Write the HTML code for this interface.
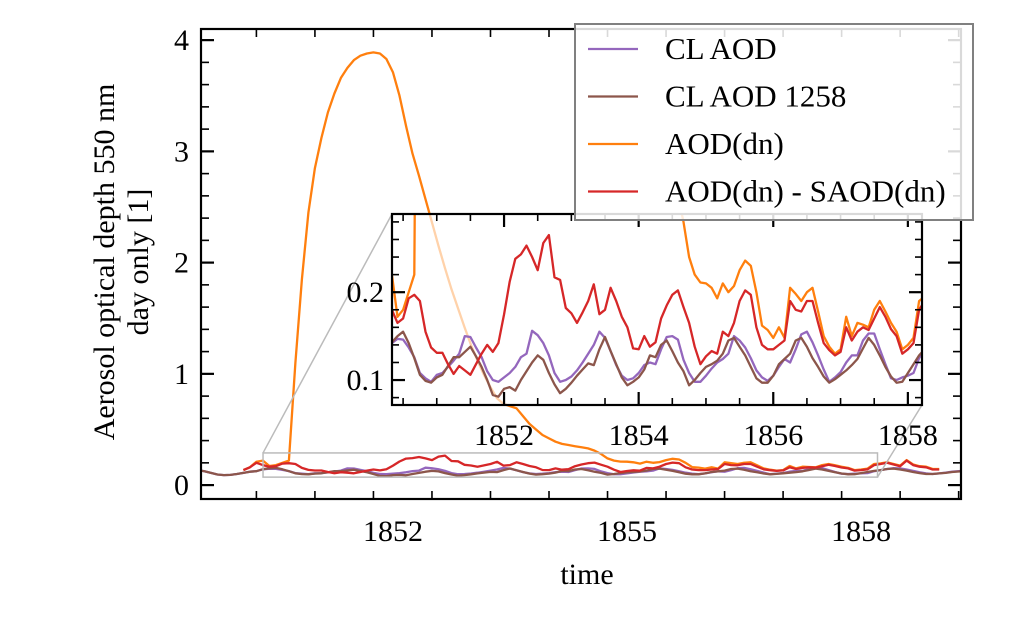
<!DOCTYPE html>
<html><head><meta charset="utf-8"><style>
html,body{margin:0;padding:0;background:#fff;}
svg{display:block;font-family:"Liberation Serif",serif;}
</style></head><body>
<svg id="chart" width="1011" height="624" viewBox="0 0 1011 624" xmlns="http://www.w3.org/2000/svg">
<rect x="0" y="0" width="1011" height="624" fill="#fff"/>
</svg>
<script>
// ---- data: monthly samples starting at startYear ----
const startYear = 1849.5;
const clAOD = [0.135,0.125,0.11,0.095,0.09,0.092,0.1,0.11,0.12,0.125,
0.142,0.147,0.146,0.137,0.126,0.108,0.102,0.098,0.106,0.108,0.115,0.122,0.13,0.15,0.149,0.137,0.126,0.11,0.1,0.098,
0.103,0.108,0.115,0.126,0.13,0.156,0.151,0.142,0.128,0.108,0.098,0.1,0.104,0.111,0.12,0.13,0.14,0.155,0.148,0.133,
0.117,0.105,0.1,0.102,0.108,0.117,0.12,0.118,0.135,0.149,0.15,0.146,0.123,0.108,0.098,0.098,0.105,0.113,0.12,0.124,
0.13,0.15,0.145,0.137,0.125,0.111,0.103,0.099,0.105,0.115,0.124,0.12,0.135,0.152,0.155,0.143,0.128,0.112,0.098,0.103,
0.109,0.12,0.128,0.128,0.145,0.153,0.153,0.135,0.118,0.102,0.1,0.103,0.105,0.108,0.125,
0.135,0.145,0.152,0.15,0.14,0.128,0.115,0.105,0.1,0.105,0.112,0.12,0.125,0.13];
const clAOD1258 = [0.135,0.125,0.11,0.095,0.09,0.092,0.1,0.11,0.12,0.125,
0.143,0.15,0.155,0.142,0.125,0.106,0.099,0.097,0.103,0.106,0.116,0.126,0.126,0.132,0.138,0.127,0.115,0.1,0.083,0.081,
0.09,0.092,0.088,0.1,0.11,0.12,0.128,0.123,0.108,0.095,0.085,0.09,0.097,0.105,0.112,0.119,0.117,0.135,0.149,0.133,
0.118,0.103,0.094,0.098,0.103,0.112,0.128,0.126,0.14,0.145,0.133,0.12,0.11,0.094,0.1,0.108,0.115,0.118,0.122,0.13,
0.145,0.148,0.138,0.128,0.115,0.102,0.097,0.097,0.105,0.118,0.124,0.13,0.145,0.148,0.138,0.125,0.115,0.104,0.097,0.101,
0.106,0.111,0.117,0.124,0.136,0.148,0.14,0.128,0.115,0.104,0.097,0.098,0.108,0.118,0.128,
0.135,0.145,0.148,0.14,0.13,0.118,0.108,0.1,0.1,0.105,0.11,0.118,0.122,0.128];
const aodDN = [null,null,null,null,null,null,null,0.135,0.16,0.21,
0.22,0.172,0.18,0.2,0.22,1.1,1.85,2.45,2.85,3.12,3.35,3.52,3.66,3.75,3.82,3.86,3.88,3.89,3.88,3.83,
3.71,3.5,3.23,2.98,2.78,2.57,2.36,2.15,1.95,1.76,1.59,1.42,1.26,1.12,0.99,0.88,0.78,0.73,0.71,0.69,
0.62,0.55,0.5,0.45,0.42,0.39,0.37,0.36,0.35,0.34,0.33,0.31,0.28,0.24,0.22,0.211,0.21,0.205,0.193,0.21,
0.2,0.207,0.225,0.236,0.23,0.2,0.162,0.157,0.148,0.16,0.148,0.205,0.198,0.19,0.2,0.205,0.178,0.15,0.138,0.13,
0.135,0.172,0.15,0.165,0.163,0.16,0.18,0.19,0.178,0.165,0.155,0.135,0.14,0.148,0.19,
0.195,0.205,0.19,0.175,0.225,0.185,0.17,0.165,0.145,0.145,null,null,null,null];
const aodMinusSaod = [null,null,null,null,null,null,null,0.135,0.16,0.2,
0.18,0.165,0.17,0.193,0.197,0.19,0.155,0.137,0.131,0.131,0.118,0.107,0.116,0.111,0.106,0.118,0.13,0.14,0.132,0.142,
0.175,0.212,0.238,0.243,0.253,0.24,0.225,0.256,0.265,0.217,0.214,0.182,0.176,0.165,0.177,0.19,0.209,0.175,0.18,0.205,
0.19,0.172,0.16,0.136,0.135,0.15,0.138,0.143,0.17,0.185,0.197,0.202,0.183,0.165,0.138,0.118,0.127,0.133,0.13,0.155,
0.15,0.165,0.19,0.202,0.197,0.16,0.14,0.135,0.135,0.14,0.145,0.19,0.18,0.178,0.19,0.19,0.165,0.142,0.134,0.128,
0.132,0.16,0.145,0.155,0.16,0.157,0.17,0.183,0.172,0.158,0.15,0.13,0.135,0.142,0.18,
0.19,0.2,0.185,0.17,0.22,0.18,0.165,0.16,0.14,0.14,null,null,null,null];
const mainYTicks = [0,1,2,3,4];
const mainXTicks = [1852,1855,1858];
const insetYTicks = [0.1,0.2];
const insetXTicks = [1852,1854,1856,1858];
const seriesNames = ["CL AOD","CL AOD 1258","AOD(dn)","AOD(dn) - SAOD(dn)"];
const seriesColors = ["#9467bd","#8c564b","#ff7f0e","#d62728"];

const NS="http://www.w3.org/2000/svg";
const svg=document.getElementById('chart');
function el(tag,attrs,parent){const e=document.createElementNS(NS,tag);for(const k in attrs)e.setAttribute(k,attrs[k]);(parent||svg).appendChild(e);return e;}

const M={l:201,r:961,t:29,b:499,x0:1849.54,x1:1859.28,y0:-0.125,y1:4.1};
const I={l:392,r:922,t:214,b:405,x0:1850.335,x1:1858.21,y0:0.0716,y1:0.289};
function sx(A,v){return A.l+(v-A.x0)/(A.x1-A.x0)*(A.r-A.l);}
function sy(A,v){return A.b-(v-A.y0)/(A.y1-A.y0)*(A.b-A.t);}
const allSeries=[clAOD,clAOD1258,aodDN,aodMinusSaod];
const seriesKeys=["cl-aod","cl-aod-1258","aod-dn","aod-minus-saod"];

function pathFor(A,arr){let d="",pen=false;arr.forEach((v,i)=>{if(v===null){pen=false;return;}const t=startYear+i/12;d+=(pen?"L":"M")+sx(A,t).toFixed(1)+","+sy(A,v).toFixed(1);pen=true;});return d;}

const defs=el('defs',{});
const cm=el('clipPath',{id:'clipMain'},defs);el('rect',{x:M.l,y:M.t,width:M.r-M.l,height:M.b-M.t},cm);
const ci=el('clipPath',{id:'clipInset'},defs);el('rect',{x:I.l,y:I.t,width:I.r-I.l,height:I.b-I.t},ci);

function ticks(A,g,xMaj,xMinStep,yMaj,yMinStep,maj,min){
  for(let v=Math.ceil(A.x0/xMinStep)*xMinStep;v<=A.x1;v+=xMinStep){
    const isMaj=xMaj.some(m=>Math.abs(m-v)<1e-6);const L=isMaj?maj:min;const x=sx(A,v);
    el('line',{x1:x,x2:x,y1:A.b,y2:A.b-L,stroke:'#000','stroke-width':isMaj?2.2:1.6},g);
    el('line',{x1:x,x2:x,y1:A.t,y2:A.t+L,stroke:'#000','stroke-width':isMaj?2.2:1.6},g);
  }
  for(let k=Math.ceil(A.y0/yMinStep-1e-6);k*yMinStep<=A.y1;k++){
    const v=k*yMinStep;const isMaj=yMaj.some(m=>Math.abs(m-v)<1e-6);const L=isMaj?maj:min;const y=sy(A,v);
    el('line',{x1:A.l,x2:A.l+L,y1:y,y2:y,stroke:'#000','stroke-width':isMaj?2.2:1.6},g);
    el('line',{x1:A.r,x2:A.r-L,y1:y,y2:y,stroke:'#000','stroke-width':isMaj?2.2:1.6},g);
  }
}

// ===== main axes =====
const gMain=el('g',{});


const gMainLines=el('g',{'clip-path':'url(#clipMain)'},gMain);
allSeries.forEach((arr,k)=>{
  const p=el('path',{d:pathFor(M,arr),fill:'none',stroke:seriesColors[k],'stroke-width':2.3,'stroke-linejoin':'round'},gMainLines);
  
  
});
const zr=el('rect',{x:sx(M,I.x0),y:sy(M,I.y1),width:sx(M,I.x1)-sx(M,I.x0),height:sy(M,I.y0)-sy(M,I.y1),fill:'none',stroke:'#bbb','stroke-width':1.5},gMain);


const c1=el('line',{x1:sx(M,I.x0),y1:sy(M,I.y1),x2:I.l,y2:I.t,stroke:'#bbb','stroke-width':1.5},gMain);


const c2=el('line',{x1:sx(M,I.x1),y1:sy(M,I.y0),x2:I.r,y2:I.b,stroke:'#bbb','stroke-width':1.5},gMain);


ticks(M,gMain,mainXTicks,0.75,mainYTicks,0.2,13,8);
const frame=el('rect',{x:M.l,y:M.t,width:M.r-M.l,height:M.b-M.t,fill:'none',stroke:'#000','stroke-width':2.2},gMain);


mainYTicks.forEach(v=>{const t=el('text',{x:189,y:sy(M,v)+10,'text-anchor':'end','font-size':30},gMain);t.textContent=v;
  
  });
mainXTicks.forEach(v=>{const t=el('text',{x:sx(M,v),y:541,'text-anchor':'middle','font-size':30},gMain);t.textContent=v;
  
  });
const xt=el('text',{x:587,y:584,'text-anchor':'middle','font-size':30});xt.textContent='time';


const yt=el('text',{transform:'translate(114,262) rotate(-90)','text-anchor':'middle','font-size':30});yt.textContent='Aerosol optical depth 550 nm';


const yt2=el('text',{transform:'translate(148,262) rotate(-90)','text-anchor':'middle','font-size':30});yt2.textContent='day only [1]';



// ===== inset =====
const gIn=el('g',{});


el('rect',{x:I.l,y:I.t,width:I.r-I.l,height:I.b-I.t,fill:'#fff','fill-opacity':0.65},gIn);
const gInLines=el('g',{'clip-path':'url(#clipInset)'},gIn);
allSeries.forEach((arr,k)=>{
  const p=el('path',{d:pathFor(I,arr),fill:'none',stroke:seriesColors[k],'stroke-width':2.3,'stroke-linejoin':'round'},gInLines);
  
  
});
ticks(I,gIn,insetXTicks,0.5,insetYTicks,0.02,13,7);
el('rect',{x:I.l,y:I.t,width:I.r-I.l,height:I.b-I.t,fill:'none',stroke:'#000','stroke-width':2.2},gIn);
insetYTicks.forEach(v=>{const t=el('text',{x:384,y:sy(I,v)+10,'text-anchor':'end','font-size':30},gIn);t.textContent=v.toFixed(1);
  
  });
insetXTicks.forEach(v=>{const t=el('text',{x:sx(I,v),y:445,'text-anchor':'middle','font-size':30},gIn);t.textContent=v;
  
  });

// ===== legend =====
const gL=el('g',{});


el('rect',{x:575,y:24,width:398,height:196,fill:'#fff','fill-opacity':0.85,stroke:'#808080','stroke-width':2},gL);
seriesNames.forEach((n,k)=>{
  const y=49+k*47.5;
  const g=el('g',{},gL);
  
  
  el('line',{x1:588,x2:638,y1:y,y2:y,stroke:seriesColors[k],'stroke-width':2.3},g);
  const t=el('text',{x:665,y:y+10,'font-size':31},g);t.textContent=n;
});
</script>
</body></html>
